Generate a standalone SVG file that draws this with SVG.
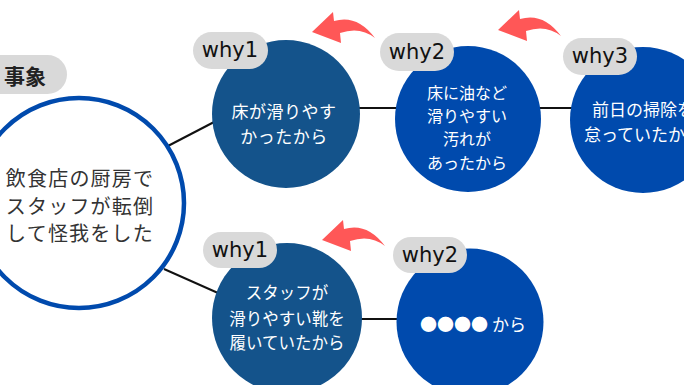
<svg xmlns="http://www.w3.org/2000/svg" width="684" height="385" viewBox="0 0 684 385">
<defs>
<style>
.lbl{fill:#d9d9d9}
.lt{font-family:"DejaVu Sans","Noto Sans",sans-serif;font-size:21px;fill:#111;text-anchor:middle;dominant-baseline:central}
.jp{font-family:"Noto Sans CJK JP","Noto Sans",sans-serif;text-anchor:middle;dominant-baseline:central}
.w{fill:#ffffff}
.dark{fill:#14538b}
.blue{fill:#004aad}
.conn{stroke:#111;stroke-width:2;fill:none}
.arrow{fill:#ff5757}
</style>
<path id="arr" d="M0,0 L21,-20 L22,-11 Q45,-18 63,6 Q48,-6 28,1 L29,11 Z"/>
</defs>
<rect width="684" height="385" fill="#ffffff"/>
<g id="connectors">
<line class="conn" x1="166" y1="147" x2="216" y2="121"/>
<line class="conn" x1="164" y1="269" x2="218" y2="293"/>
<line class="conn" x1="355" y1="108" x2="400" y2="108"/>
<line class="conn" x1="536" y1="108" x2="575" y2="108"/>
<line class="conn" x1="357" y1="319" x2="402" y2="319"/>
</g>
<g id="arrows">
<use href="#arr" class="arrow" transform="translate(312,32)"/>
<use href="#arr" class="arrow" transform="translate(498,30)"/>
<use href="#arr" class="arrow" transform="translate(322,240)"/>
</g>
<g id="event">
<circle cx="79" cy="203" r="105" fill="#ffffff" stroke="#004aad" stroke-width="4.5"/>
<text class="jp" x="80" y="177" font-size="20" letter-spacing="1.2" fill="#333">飲食店の厨房で</text>
<text class="jp" x="80" y="205" font-size="20" letter-spacing="1.2" fill="#333">スタッフが転倒</text>
<text class="jp" x="80" y="232" font-size="20" letter-spacing="1.2" fill="#333">して怪我をした</text>
<rect class="lbl" x="-20" y="55" width="87" height="39" rx="19.5"/>
<text class="jp" x="25" y="75" font-size="21" font-weight="bold" fill="#222">事象</text>
</g>
<g id="why1-top">
<circle class="dark" cx="286" cy="114" r="74"/>
<text class="jp w" x="284" y="110" font-size="17" letter-spacing="0.5">床が滑りやす</text>
<text class="jp w" x="284" y="135" font-size="17" letter-spacing="0.5">かったから</text>
<rect class="lbl" x="193" y="32" width="75" height="37" rx="18.5"/>
<text class="lt" x="230" y="50">why1</text>
</g>
<g id="why2-top">
<circle class="blue" cx="468" cy="119" r="73"/>
<text class="jp w" x="467" y="92" font-size="16">床に油など</text>
<text class="jp w" x="467" y="115" font-size="16">滑りやすい</text>
<text class="jp w" x="467" y="138" font-size="16">汚れが</text>
<text class="jp w" x="467" y="162" font-size="16">あったから</text>
<rect class="lbl" x="380" y="33" width="74" height="38" rx="19"/>
<text class="lt" x="417" y="52">why2</text>
</g>
<g id="why3-top">
<circle class="blue" cx="643" cy="120" r="73"/>
<text class="jp w" x="643" y="108" font-size="17">前日の掃除を</text>
<text class="jp w" x="643" y="133" font-size="17">怠っていたから</text>
<rect class="lbl" x="563" y="38" width="74" height="37" rx="18.5"/>
<text class="lt" x="600" y="56">why3</text>
</g>
<g id="why1-bottom">
<circle class="dark" cx="287" cy="318" r="75"/>
<text class="jp w" x="287" y="292" font-size="16.5">スタッフが</text>
<text class="jp w" x="287" y="318" font-size="16.5">滑りやすい靴を</text>
<text class="jp w" x="287" y="342" font-size="16.5">履いていたから</text>
<rect class="lbl" x="203" y="232" width="74" height="36" rx="18"/>
<text class="lt" x="240" y="250">why1</text>
</g>
<g id="why2-bottom">
<circle class="blue" cx="470" cy="322" r="73.5"/>
<text class="jp w" x="473" y="323" font-size="17">●●●● から</text>
<rect class="lbl" x="393" y="237" width="74" height="36" rx="18"/>
<text class="lt" x="430" y="255">why2</text>
</g>
</svg>
